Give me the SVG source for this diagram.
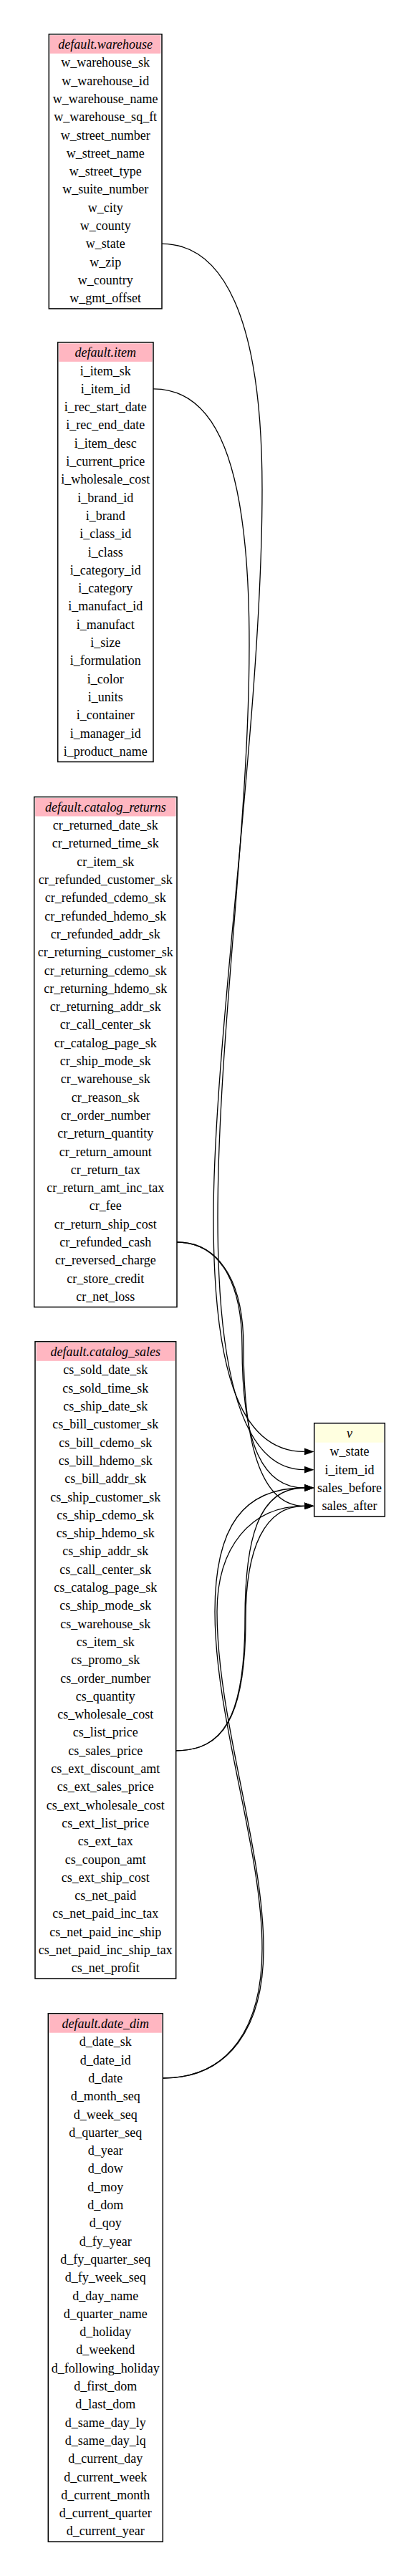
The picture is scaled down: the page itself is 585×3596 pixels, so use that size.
<svg xmlns="http://www.w3.org/2000/svg" width="585" height="3596" viewBox="0 0 585 3596">
<defs>
<style>
.bg{fill:#fff}
.box{fill:#fff;stroke:#000;stroke-width:1.5}
.hp{fill:#ffb6c1}
.hy{fill:#ffffe0}
.t{font-family:"Liberation Serif","Times New Roman",serif;font-size:18px;text-anchor:middle;fill:#000}
.i{font-style:italic}
.e{fill:none;stroke:#000;stroke-width:1.3}
</style>
<marker id="ah" viewBox="0 0 14 10" refX="0" refY="5" markerWidth="14" markerHeight="10" markerUnits="userSpaceOnUse" orient="auto">
<path d="M0,0 L14,5 L0,10 z" fill="#000"/>
</marker>
</defs>
<rect class="bg" x="0" y="0" width="585" height="3596"/>

<g id="warehouse" transform="translate(68.3,47.7)">
<rect class="box" x="0" y="0" width="157.7" height="383.2"/>
<rect class="hp" x="1.5" y="1.5" width="154.7" height="25.5"/>
<g class="t">
<text class="i" x="78.85" y="20">default.warehouse</text>
<text x="78.85" y="45.65">w_warehouse_sk</text>
<text x="78.85" y="70.95">w_warehouse_id</text>
<text x="78.85" y="96.25">w_warehouse_name</text>
<text x="78.85" y="121.55">w_warehouse_sq_ft</text>
<text x="78.85" y="146.85">w_street_number</text>
<text x="78.85" y="172.15">w_street_name</text>
<text x="78.85" y="197.45">w_street_type</text>
<text x="78.85" y="222.75">w_suite_number</text>
<text x="78.85" y="248.05">w_city</text>
<text x="78.85" y="273.35">w_county</text>
<text x="78.85" y="298.65">w_state</text>
<text x="78.85" y="323.95">w_zip</text>
<text x="78.85" y="349.25">w_country</text>
<text x="78.85" y="374.55">w_gmt_offset</text>
</g>
</g>

<g id="item" transform="translate(80.7,477.9)">
<rect class="box" x="0" y="0" width="133.3" height="585.6"/>
<rect class="hp" x="1.5" y="1.5" width="130.3" height="25.5"/>
<g class="t">
<text class="i" x="66.65" y="20">default.item</text>
<text x="66.65" y="45.65">i_item_sk</text>
<text x="66.65" y="70.95">i_item_id</text>
<text x="66.65" y="96.25">i_rec_start_date</text>
<text x="66.65" y="121.55">i_rec_end_date</text>
<text x="66.65" y="146.85">i_item_desc</text>
<text x="66.65" y="172.15">i_current_price</text>
<text x="66.65" y="197.45">i_wholesale_cost</text>
<text x="66.65" y="222.75">i_brand_id</text>
<text x="66.65" y="248.05">i_brand</text>
<text x="66.65" y="273.35">i_class_id</text>
<text x="66.65" y="298.65">i_class</text>
<text x="66.65" y="323.95">i_category_id</text>
<text x="66.65" y="349.25">i_category</text>
<text x="66.65" y="374.55">i_manufact_id</text>
<text x="66.65" y="399.85">i_manufact</text>
<text x="66.65" y="425.15">i_size</text>
<text x="66.65" y="450.45">i_formulation</text>
<text x="66.65" y="475.75">i_color</text>
<text x="66.65" y="501.05">i_units</text>
<text x="66.65" y="526.35">i_container</text>
<text x="66.65" y="551.65">i_manager_id</text>
<text x="66.65" y="576.95">i_product_name</text>
</g>
</g>

<g id="catalog_returns" transform="translate(47.7,1112.5)">
<rect class="box" x="0" y="0" width="199.3" height="712.1"/>
<rect class="hp" x="1.5" y="1.5" width="196.3" height="25.5"/>
<g class="t">
<text class="i" x="99.65" y="20">default.catalog_returns</text>
<text x="99.65" y="45.65">cr_returned_date_sk</text>
<text x="99.65" y="70.95">cr_returned_time_sk</text>
<text x="99.65" y="96.25">cr_item_sk</text>
<text x="99.65" y="121.55">cr_refunded_customer_sk</text>
<text x="99.65" y="146.85">cr_refunded_cdemo_sk</text>
<text x="99.65" y="172.15">cr_refunded_hdemo_sk</text>
<text x="99.65" y="197.45">cr_refunded_addr_sk</text>
<text x="99.65" y="222.75">cr_returning_customer_sk</text>
<text x="99.65" y="248.05">cr_returning_cdemo_sk</text>
<text x="99.65" y="273.35">cr_returning_hdemo_sk</text>
<text x="99.65" y="298.65">cr_returning_addr_sk</text>
<text x="99.65" y="323.95">cr_call_center_sk</text>
<text x="99.65" y="349.25">cr_catalog_page_sk</text>
<text x="99.65" y="374.55">cr_ship_mode_sk</text>
<text x="99.65" y="399.85">cr_warehouse_sk</text>
<text x="99.65" y="425.15">cr_reason_sk</text>
<text x="99.65" y="450.45">cr_order_number</text>
<text x="99.65" y="475.75">cr_return_quantity</text>
<text x="99.65" y="501.05">cr_return_amount</text>
<text x="99.65" y="526.35">cr_return_tax</text>
<text x="99.65" y="551.65">cr_return_amt_inc_tax</text>
<text x="99.65" y="576.95">cr_fee</text>
<text x="99.65" y="602.25">cr_return_ship_cost</text>
<text x="99.65" y="627.55">cr_refunded_cash</text>
<text x="99.65" y="652.85">cr_reversed_charge</text>
<text x="99.65" y="678.15">cr_store_credit</text>
<text x="99.65" y="703.45">cr_net_loss</text>
</g>
</g>

<g id="catalog_sales" transform="translate(49,1872.8)">
<rect class="box" x="0" y="0" width="196.7" height="889.2"/>
<rect class="hp" x="1.5" y="1.5" width="193.7" height="25.5"/>
<g class="t">
<text class="i" x="98.35" y="20">default.catalog_sales</text>
<text x="98.35" y="45.65">cs_sold_date_sk</text>
<text x="98.35" y="70.95">cs_sold_time_sk</text>
<text x="98.35" y="96.25">cs_ship_date_sk</text>
<text x="98.35" y="121.55">cs_bill_customer_sk</text>
<text x="98.35" y="146.85">cs_bill_cdemo_sk</text>
<text x="98.35" y="172.15">cs_bill_hdemo_sk</text>
<text x="98.35" y="197.45">cs_bill_addr_sk</text>
<text x="98.35" y="222.75">cs_ship_customer_sk</text>
<text x="98.35" y="248.05">cs_ship_cdemo_sk</text>
<text x="98.35" y="273.35">cs_ship_hdemo_sk</text>
<text x="98.35" y="298.65">cs_ship_addr_sk</text>
<text x="98.35" y="323.95">cs_call_center_sk</text>
<text x="98.35" y="349.25">cs_catalog_page_sk</text>
<text x="98.35" y="374.55">cs_ship_mode_sk</text>
<text x="98.35" y="399.85">cs_warehouse_sk</text>
<text x="98.35" y="425.15">cs_item_sk</text>
<text x="98.35" y="450.45">cs_promo_sk</text>
<text x="98.35" y="475.75">cs_order_number</text>
<text x="98.35" y="501.05">cs_quantity</text>
<text x="98.35" y="526.35">cs_wholesale_cost</text>
<text x="98.35" y="551.65">cs_list_price</text>
<text x="98.35" y="576.95">cs_sales_price</text>
<text x="98.35" y="602.25">cs_ext_discount_amt</text>
<text x="98.35" y="627.55">cs_ext_sales_price</text>
<text x="98.35" y="652.85">cs_ext_wholesale_cost</text>
<text x="98.35" y="678.15">cs_ext_list_price</text>
<text x="98.35" y="703.45">cs_ext_tax</text>
<text x="98.35" y="728.75">cs_coupon_amt</text>
<text x="98.35" y="754.05">cs_ext_ship_cost</text>
<text x="98.35" y="779.35">cs_net_paid</text>
<text x="98.35" y="804.65">cs_net_paid_inc_tax</text>
<text x="98.35" y="829.95">cs_net_paid_inc_ship</text>
<text x="98.35" y="855.25">cs_net_paid_inc_ship_tax</text>
<text x="98.35" y="880.55">cs_net_profit</text>
</g>
</g>

<g id="date_dim" transform="translate(67.3,2810.7)">
<rect class="box" x="0" y="0" width="160" height="737.4"/>
<rect class="hp" x="1.5" y="1.5" width="157" height="25.5"/>
<g class="t">
<text class="i" x="80" y="20">default.date_dim</text>
<text x="80" y="45.65">d_date_sk</text>
<text x="80" y="70.95">d_date_id</text>
<text x="80" y="96.25">d_date</text>
<text x="80" y="121.55">d_month_seq</text>
<text x="80" y="146.85">d_week_seq</text>
<text x="80" y="172.15">d_quarter_seq</text>
<text x="80" y="197.45">d_year</text>
<text x="80" y="222.75">d_dow</text>
<text x="80" y="248.05">d_moy</text>
<text x="80" y="273.35">d_dom</text>
<text x="80" y="298.65">d_qoy</text>
<text x="80" y="323.95">d_fy_year</text>
<text x="80" y="349.25">d_fy_quarter_seq</text>
<text x="80" y="374.55">d_fy_week_seq</text>
<text x="80" y="399.85">d_day_name</text>
<text x="80" y="425.15">d_quarter_name</text>
<text x="80" y="450.45">d_holiday</text>
<text x="80" y="475.75">d_weekend</text>
<text x="80" y="501.05">d_following_holiday</text>
<text x="80" y="526.35">d_first_dom</text>
<text x="80" y="551.65">d_last_dom</text>
<text x="80" y="576.95">d_same_day_ly</text>
<text x="80" y="602.25">d_same_day_lq</text>
<text x="80" y="627.55">d_current_day</text>
<text x="80" y="652.85">d_current_week</text>
<text x="80" y="678.15">d_current_month</text>
<text x="80" y="703.45">d_current_quarter</text>
<text x="80" y="728.75">d_current_year</text>
</g>
</g>

<g id="v" transform="translate(438.7,1986.7)">
<rect class="box" x="0" y="0" width="98.6" height="130.2"/>
<rect class="hy" x="1.5" y="1.5" width="95.6" height="25.5"/>
<g class="t">
<text class="i" x="49.3" y="20">v</text>
<text x="49.3" y="45.65">w_state</text>
<text x="49.3" y="70.95">i_item_id</text>
<text x="49.3" y="96.25">sales_before</text>
<text x="49.3" y="121.55">sales_after</text>
</g>
</g>

<g id="connectors">
<path class="e" marker-end="url(#ah)" d="M226,340.4 C310,340.4 366,440 366,683 C366,1000 298,1450 298,1700 C298,1900 330,2026.4 424.7,2026.4"/>
<path class="e" marker-end="url(#ah)" d="M214,542.9 C300,542.9 348,640 348,900 C348,1150 304,1450 304,1700 C304,1920 340,2051.7 424.7,2051.7"/>
<path class="e" marker-end="url(#ah)" d="M247,1734 C300,1734 338,1780 338,1880 C338,2000 360,2077 424.7,2077"/>
<path class="e" marker-end="url(#ah)" d="M247,1734 C300,1734 340,1780 340,1880 C340,2030 370,2102.3 424.7,2102.3"/>
<path class="e" marker-end="url(#ah)" d="M245.7,2443.8 C310,2443.8 342,2400 342,2260 C342,2150 360,2077 424.7,2077"/>
<path class="e" marker-end="url(#ah)" d="M245.7,2443.8 C310,2443.8 343,2400 343,2260 C343,2160 370,2102.3 424.7,2102.3"/>
<path class="e" marker-end="url(#ah)" d="M227.3,2901 C320,2901 366,2830 366,2720 C366,2580 300,2400 300,2250 C300,2130 340,2077 424.7,2077"/>
<path class="e" marker-end="url(#ah)" d="M227.3,2901 C320,2901 368,2830 368,2720 C368,2580 303,2400 303,2250 C303,2160 350,2102.3 424.7,2102.3"/>
</g>
</svg>
